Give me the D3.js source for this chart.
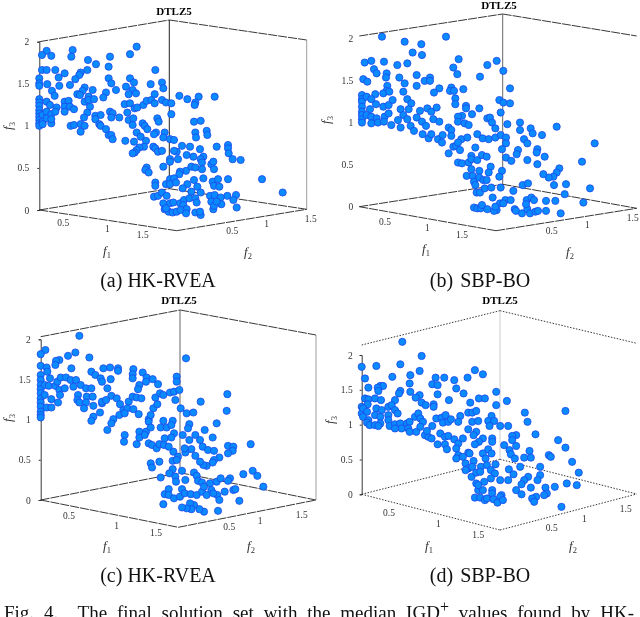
<!DOCTYPE html>
<html>
<head>
<meta charset="utf-8">
<script src="https://d3js.org/d3.v7.min.js"></script>
<style>
  html, body { margin: 0; background: #fff; }
  svg { display: block; filter: blur(0.35px); }
  text { font-family: "Liberation Serif", serif; }
</style>
</head>
<body>
<svg id="fig" width="640" height="617"></svg>
<script>
// points as [u, v] on the view plane:
// u = across the cube, v = height (f3 hundredths, roughly)
var pointsA = [[5.5,191],[2,186],[9,185],[25,192],[24,184],[73,196],[68,187],[53,184],[36.5,180],[42.5,175],[52,172],[2,168],[5.5,168],[12,168],[19,164],[31,165],[36,168],[30,162],[27,157],[14.5,159],[0,158],[87,168],[52,158],[54,152],[68,158],[71,153],[83.5,151],[92,153],[93,146],[0,152],[0,149],[6,151],[15,149],[23,150],[9.5,143],[11.5,137],[34,147],[32.5,143],[40,144],[28.5,139],[30.5,138],[37,136],[57.5,144],[65,148],[70,144],[72.5,140],[67,139],[50,141],[48,135],[86.5,139],[105,137],[111,133],[119.5,136],[131.5,136],
  [0,133],[0,129],[0,125],[0,120],[0,116],[0,112],[0,108],[0,104],[0,101],[2.5,114],[2.5,106],[2.5,103],[5.5,130],[8,126],[5.5,118],[5.5,110],[9,115],[9,104],[9,109],[13,123],[12,118],[19,130],[22,131],[19,124],[23,124],[26,121],[19,118],
  [34,130],[37,132],[41,133],[38,124],[36,117],[33.5,111],[64,127],[68,128],[71.5,122],[73.5,123],[78,126],[80.5,131],[84,132],[86.5,128],[92,132],[95,129],[99,128],[117,129],[116.5,126],[99,115],
  [42,113],[46,114],[42,109],[53,118],[55,116],[54,111],[60,111],[66,117],[67,108],[70.5,110],[88.5,110],[89.5,106],[116,106],[121,107],[45,103],[46,101],[50,97],[23.5,101],[26,102],[31,103],[34,101],[31,94],[70,102],[77.5,104],[79,101],[81,97],
  [52,90],[54,90],[55,85],[73,93],[76,88],[80,83],[87.5,93],[86,91],[94,93],[93,87],[98,85],[101,84],[117,93],[117.5,87],[125.5,95],[126,90],[64.5,83],[71,82],[78.5,76],[75,75],[73,72],[71.5,69],[70,68],[85.5,76],[87,74],[89,70],[92,71],[107,77],[113,76],[120.5,73],[133,76],[141.5,78],[141.5,74],[142,68],
  [103,70],[101,71],[110.5,66],[115.5,64],[123,64],[121,61],[122,57],[145,61],[151,60],[98,61],[98,58],[104,61],[93,52],[80.5,51],[79.5,48],[82,45],[114,52],[117,51],[122,49],[110,47],[105.5,46],[105,43],[129,55],[130.5,58],[131,49],[167,37],[182.5,21],
  [87,33],[87,29],[98,37],[95,31],[98,31],[101,38],[102.5,33],[111,31],[107.5,26],[116,36],[123,38],[118.5,28],[121,21],[114,22],[130,34],[134,37],[141.5,37],[131,29],[135,28],[128,17],[131.5,18],[141,17],[147.5,18],[145.5,12],[136,15],[136.5,7],[148,3],
  [86,16],[89,17],[92,21],[95.5,17],[93,8],[98,8],[100.5,9],[94,1],[97,-2],[100,-3],[103,-2],[95,2],[105.5,8],[108.5,12],[108,6],[106,0],[110.5,1],[110,-4],[117,-3],[121,-6],[112.5,14],[117,14],[118,9],[120.5,-2],[129,10],[130.5,1],[131,5],[133,10]];

var pointsB = [[17,204],[34,198],[46.5,195],[65,204],[40,185],[47,182],[4,173],[9,175],[18.5,174],[28.5,170],[36,172],[74.5,177],[96,170],[103,175],[70.5,167],[73.5,159],[11,165],[13,160],[20.5,160],[20,155],[3,153],[6,150],[30,155],[34,148],[43,158],[43,145],[49,151],[53,155],[53,151],[90.5,156],[108,163],[21,145],[20.5,139],[18,136],[22.5,138],[33,138],[60,142],[56,137],[69,143],[68,139],[71,139],[78,141],[113,142],
  [12,135],[2,134],[2,129],[2,126],[2,120],[2,114],[2,110],[2,105],[2,101],[5.5,132],[9,129],[12.5,123],[8,117],[5.5,110],[9,108],[9,100],[13,106],[14,101],[18,120],[22,122],[25,128],[19,108],[18.5,102],[22,112],[24,98],[36,129],[39,124],[37,117],[31,117],[33,110],[29,104],[36,105],[31,95],[38.5,97],[41,91],[43,107],[45.5,115],[51,118],[54,114],[58,119],[47,102],[50,97],[55.5,105],[60,102],
  [72,130],[72,123],[80,121],[80,118],[90,118],[105,128],[108,125],[113,124],[106,113],[77,109],[74,108],[84.5,111],[74,102],[79,100],[82,98],[96,106],[98,107],[99.5,101],[102,94],[111,99],[120.5,101],[120.5,92],[128.5,94],[130,88],[137,86],[148,96],[176.5,76],
  [47.5,87],[52,82],[54,87],[59,81],[62.5,86],[62,77],[67,95],[69,92],[69,85],[70.5,72],[67,64],[72.5,73],[76.5,81],[81,83],[88.5,87],[92.5,82],[97,81],[102,83],[106,86],[110,83],[110,76],[107,69],[123.5,81],[126,76],[119,68],[118,63],[133.5,69],[133,65],[139,60],[110,59],[114,55],[126,56],[133.5,51],[167,54],[150,46],[148,41],[145.5,36],[142,35],[138,39],[155,27],[146,26],[173,22],[154,15],[168,5],[151,-8],
  [74,77],[75.5,68],[74,53],[77,52],[82,53],[87,71],[84,61],[84,57],[88.5,56],[92,62],[95.5,60],[98.5,48],[80.5,37],[84,45],[85,37],[90,43],[97,41],[107,43],[105,36],[86,30],[90,35],[93,32],[95.5,32],[87,26],[88,17],[90.5,17],[94,22],[99,23],[106,23],[115.5,19],[100,11],[109.5,8],[113.5,8],[105.5,4],[103,-4],[108,4],[86,-1],[88.5,-2],[91,-2],[92,2],[96,-3],[101,-5],[102,0],[116.5,-3],[117.5,-5],[122,-8],[126,-3],[128,-8],[132,-6],[134,-5],[140,-5],[125.5,8],[125,3],[129,11],[131,8],[140,7],[147,7],[122.5,26],[126.5,28]];

var pointsC = [[3.5,180],[0,175],[29,197],[26,177],[20.5,173],[14,168],[11.5,167],[11,162],[0,161],[4.5,159],[5,154],[36.5,171],[23,158],[109,170],[38,154],[41,150],[47,158],[52,159],[58,158],[58,155],[69.5,157],[69,151],[69,146],[76.5,153],[79.5,147],[79,142],[84,145],[88,139],[45,146],[46,142],[52.5,145],[102,148],[102,142],
  [0,150],[0,144],[0,138],[0,133],[0,128],[0,122],[0,117],[0,112],[0,106],[0,102],[0,99],[3,138],[3,126],[4.5,111],[6,137],[7,146],[8,111],[8,121],[11,137],[12.5,142],[15,147],[19,147],[22.5,144],[26.5,144],[14,132],[14.5,126],[13,117],[18,134],[24.5,136],[30,138],[34,134],[38,134],[28,126],[27.5,120],[29,117],[34.5,124],[34,117],[39,124],[32.5,110],[39.5,113],[46,116],[39.5,100],[38,95],[44.5,105],[50,134],[46,118],[49,120],[53,125],[57,122],[59.5,115],[66,118],[69,124],[72,123],[75.5,122],[74,138],[73,133],
  [62,108],[65,110],[69.5,109],[73.5,103],[59,102],[63,104],[54.5,97],[53,92],[50,84],[63,78],[62.5,70],[72,67],[74,82],[74,75],[79,82],[78,78],[81,97],[82.5,102],[84.5,110],[87.5,115],[86,123],[89.5,128],[92,126],[97,129],[100,130],[104,132],[101,120],[105,110],[109.5,104],[114.5,105],[120,118],[140,127],[139.5,107],[132,92],[123,84],[129,75],[111.5,91],[110.5,86],[81,94],[82.5,87],[81,68],[83.5,66],[87,62],[89,67],[92.5,66],[93,74],[96,64],[99.5,58],[92,95],[90,87],[94.5,87],[99,95],[98,90],[100,80],[98,75],[106.5,78],[111.5,72],[116,78],[119.5,72],[121.5,64],[125.5,60],[130,59],[134,51],[130,48],[129,45],[124.5,41],[122,42],[119.5,46],[116,53],[113,61],[108.5,57],[108,62],[103,52],[99,47],[102,48],[140.5,65],[144.5,64],[144,59],[140.5,56],[157.5,67],
  [82.5,44],[83.5,39],[89,46],[90,27],[99,37],[96.5,32],[101,28],[106,35],[101.5,22],[108.5,24],[115,33],[117,29],[118,23],[121,21],[127,20],[132,22],[135,26],[142,26],[140.5,23],[152,31],[159,35],[162.5,29],[167,16],[144.5,12],[146,13],[138,10],[149,-1],[133,-13],[122.5,-14],[119,-11],[115,-6],[112,-4],[113,-11],[109.5,-10],[106,-9],[92,-5],[93,7],[96,13],[96,6],[100,2],[104.5,4],[106,13],[108,8],[112.5,7],[117,6],[121,10],[122.5,16],[128,12],[132.5,6],[134,0],[129.5,8],[124.5,6]];

var pointsD = [[30.5,183],[45,166],[29,156],[11,154],[0,153],[43.5,148],[36.5,143],[23,141],[2.5,139],[55.5,140],[62,140],[53,132],[57,131],[36,133],[69.5,137],[79.5,140],[85,149],[91,144],[14,130],[16,130],[12,128],[12.5,124],[5,128],[29,124],[28,121],[36.5,123],[71,127],[76.5,121],[57,120],[43.5,119],[40.5,116],[45,110],[48,107],[54,108],[54,105],[65.5,113],[81.5,110],[88,115],[92.5,115],[101,123],[101,107],[109,112],[122.5,98],[124.5,87],[153,100],[130.5,72],[147.5,65],[153,56],[140.5,47],[142,45],[158,39],[163,26],[134,33],[126,52],[127,44],[122,44],[116,71],[113,70],[110,82],[113,65],[116,58],[111,53],[112,48],[115,43],[107,59],[119,33],[110.5,30],[114,24],[110,17],[125,21],[122,17],[120,12],[116,5],[120,0],[127,8],[134,23],[132,17],[138,8],[145,9],[154,13],[161.5,11],[139,1],[137,-1],[131,-3],[128,-5],[129.5,-9],[150,-15],
  [0,105],[0,97],[2.5,115],[5,114],[4.5,108],[1,103],[4,99],[1,93],[5,89],[4,86],[6,83],[10,115],[14.5,113],[11,103],[15,101],[10,95],[14,93],[10,83],[14,85],[12.5,82],[20,105],[25,113],[22.5,107],[25,101],[20,95],[27,97],[20,89],[21,82],[25,84],[29,85],[30,79],[25,79],[34,85],[36,87],[35,79],[36,75],[40,93],[42.5,97],[44,91],[46,87],[41,75],[44,81],[47.5,71],[50,69],[52.5,67],[49,76],[53,82],[56,91],[60,92],[63,95],[61,86],[65,87],[67,90],[74,94],[72.5,87],[80,98],[83,98],[86,100],[83,87],[87.5,88],[80,78],[86,75],[84,71],[97.5,94],[95,88],[99.5,88],[96,82],[104,82],[98,67],[98,63],[91,67],[88,63],[85,60],
  [59,73],[57,60],[62.5,69],[65,70],[62.5,60],[64,54],[69.5,66],[72.5,61],[76,67],[71,55],[72.5,47],[71,43],[80,50],[76,45],[81,49],[78,37],[80,31],[84,40],[83,33],[82.5,21],[86,13],[87.5,5],[91,49],[95,54],[97.5,49],[93,43],[89.5,33],[94,35],[97,29],[100.5,36],[100,25],[92,15],[91,5],[97,19],[104,17],[98,5],[98,1],[105,-1],[104,-3],[85,-4],[89,-4],[92.5,-7],[94,-5],[99,-6],[102,-10],[106,-7],[87.5,11],[86,26],[89,27],[78,29]];

var f3Ticks = [0, 0.5, 1, 1.5, 2];
var floorTicks = [0.5, 1, 1.5];
var titleText = 'DTLZ5';
var captions = ['(a) HK-RVEA', '(b) SBP-BO', '(c) HK-RVEA', '(d) SBP-BO'];
var figText = ['Fig. 4.  The final solution set with the median IGD', '+', ' values found by HK-'];

// layout of each panel, in page px. cube corners are given as l/b/r/f
var panels = [
  {pts: pointsA, cap: 0, ox: 0, oy: 0, xL: 39.3, xR: 306.7, y0: 210, y2: 41.7, uMax: 200.5, vMax: 202,
   topL: 41.7, topB: [169.3, 20], topR: 40, botR: 209.3, front: [176.7, 230.7], backBot: 188.7,
   dash: '9 1', backColor: '#222', leftAxis: true, rightEdge: true, tickPad: 8,
   title: [174, 15], f1x: [63.3, 107.3, 142.7], f1y: [224, 230, 236], f2x: [232.3, 266.7, 310.7], f2y: [232.3, 225, 220],
   f1lab: [107, 255], f2lab: [248, 256], f3lab: [12, 126], capX: 158, capY: 287},
  {pts: pointsB, cap: 1, ox: 320, oy: 0, xL: 359.3, xR: 636.7, y0: 206.7, y2: 38.3, uMax: 208, vMax: 202,
   topL: 36, topB: [502.7, 14], topR: 36, botR: 208.3, front: [496, 230.7], backBot: 184.3,
   dash: '9 1', backColor: '#666', leftAxis: false, rightEdge: false, tickPad: 6,
   title: [499, 8.5], f1x: [385, 427.3, 462], f1y: [222.7, 228.7, 236], f2x: [551.7, 587.3, 632.7], f2y: [232.3, 225.7, 219],
   f1lab: [426, 253], f2lab: [570, 256], f3lab: [330, 120], capX: 480, capY: 287},
  {pts: pointsC, cap: 2, ox: 0, oy: 300, xL: 40.7, xR: 316, y0: 500, y2: 339.3, uMax: 206.5, vMax: 193,
   topL: 336.7, topB: [180, 310], topR: 335, botR: 500, front: [178.3, 527.3], backBot: 472.7,
   dash: '9 1', backColor: '#666', leftAxis: true, rightEdge: true, tickPad: 8,
   title: [179, 304], f1x: [69, 116.7, 156], f1y: [517.3, 526.7, 534.3], f2x: [229.3, 260, 301.7], f2y: [528.3, 521.7, 515.7],
   f1lab: [107, 550], f2lab: [251, 550], f3lab: [12, 418], capX: 158, capY: 582},
  {pts: pointsD, cap: 3, ox: 320, oy: 300, xL: 361.7, xR: 636.7, y0: 494.3, y2: 355, uMax: 206.5, vMax: 167,
   topL: 345, topB: [500, 310.7], topR: 343.3, botR: 494, front: [500, 530], backBot: 459.3,
   dash: '1.5 1.5', backColor: '#ccc', leftAxis: true, rightEdge: false, tickPad: 7,
   title: [500, 304], f1x: [389, 438.3, 478.3], f1y: [514.3, 525, 536], f2x: [551.7, 584.3, 625.7], f2y: [529, 520, 510],
   f1lab: [429, 550], f2lab: [573, 550], f3lab: [334, 420], capX: 480, capY: 582}
];

var svg = d3.select('#fig');

function drawPanel(p) {
  var g = svg.append('g');
  var x = d3.scaleLinear().domain([0, p.uMax]).range([p.xL, p.xR]);
  var y = d3.scaleLinear().domain([0, p.vMax]).range([p.y0, p.y0 - p.vMax / 1.2]);
  var f3 = d3.scaleLinear().domain([0, 2]).range([p.y0, p.y2]);

  //cube edges
  var edges = [
    [[p.xL, p.topL], p.topB], [p.topB, [p.xR, p.topR]],
    [[p.xL, p.y0], p.front], [p.front, [p.xR, p.botR]],
    [[p.xL, p.y0], [p.topB[0], p.backBot]], [[p.topB[0], p.backBot], [p.xR, p.botR]]
  ];
  g.selectAll('.edge').data(edges).enter().append('line')
    .attr('class', 'edge')
    .attr('x1', function (d) { return d[0][0]; })
    .attr('y1', function (d) { return d[0][1]; })
    .attr('x2', function (d) { return d[1][0]; })
    .attr('y2', function (d) { return d[1][1]; })
    .attr('stroke', '#222')
    .attr('stroke-width', 0.9)
    .attr('stroke-dasharray', p.dash);

  g.append('line')
    .attr('x1', p.topB[0]).attr('x2', p.topB[0])
    .attr('y1', p.topB[1]).attr('y2', p.backBot)
    .attr('stroke', p.backColor).attr('stroke-width', 1);
  if (p.rightEdge) {
    g.append('line')
      .attr('x1', p.xR).attr('x2', p.xR)
      .attr('y1', p.topR).attr('y2', p.botR)
      .attr('stroke', '#777').attr('stroke-width', 0.7);
  }

  //f3 axis
  var axis = g.append('g')
    .attr('transform', 'translate(' + p.xL + ',0)')
    .call(d3.axisLeft(f3).tickValues(f3Ticks).tickSize(p.leftAxis ? 2 : 0).tickPadding(p.tickPad).tickFormat(d3.format('~g')));
  axis.selectAll('text').attr('font-size', 9.5).attr('fill', '#333')
    .style('font-family', '"Liberation Serif", serif');
  axis.selectAll('line').attr('stroke', '#333');
  axis.select('.domain').attr('stroke', p.leftAxis ? '#222' : 'none').attr('stroke-width', 0.9);

  //floor tick labels
  var f1x = d3.scaleLinear().domain(floorTicks).range(p.f1x);
  var f1y = d3.scaleLinear().domain(floorTicks).range(p.f1y);
  var f2x = d3.scaleLinear().domain(floorTicks).range(p.f2x);
  var f2y = d3.scaleLinear().domain(floorTicks).range(p.f2y);
  [[f1x, f1y], [f2x, f2y]].forEach(function (s) {
    g.selectAll(null).data(floorTicks).enter().append('text')
      .attr('x', function (d) { return s[0](d); })
      .attr('y', function (d) { return s[1](d); })
      .attr('text-anchor', 'middle')
      .attr('dominant-baseline', 'middle')
      .attr('font-size', 9.5)
      .attr('fill', '#333')
      .text(function (d) { return d; });
  });

  //axis names
  [[p.f1lab, '1', 0], [p.f2lab, '2', 0], [p.f3lab, '3', -90]].forEach(function (l) {
    var t = g.append('text')
      .attr('transform', 'translate(' + l[0][0] + ',' + l[0][1] + ') rotate(' + l[2] + ')')
      .attr('text-anchor', 'middle')
      .attr('font-size', 13)
      .attr('font-style', 'italic')
      .attr('fill', '#333');
    t.append('tspan').text('f');
    t.append('tspan').attr('dy', 2.5).attr('font-size', 8.5).attr('font-style', 'normal').text(l[1]);
  });

  g.append('text')
    .attr('x', p.title[0]).attr('y', p.title[1])
    .attr('text-anchor', 'middle')
    .attr('font-size', 11).attr('font-weight', 'bold')
    .text(titleText);

  //points
  g.selectAll('.pt').data(p.pts).enter().append('circle')
    .attr('class', 'pt')
    .attr('cx', function (d) { return x(d[0]); })
    .attr('cy', function (d) { return y(d[1]); })
    .attr('r', 3.6)
    .attr('fill', '#0a8aff')
    .attr('stroke', '#1f48e8')
    .attr('stroke-width', 0.8);

  g.append('text')
    .attr('x', p.capX).attr('y', p.capY)
    .attr('text-anchor', 'middle')
    .attr('font-size', 20)
    .attr('fill', '#111')
    .style('word-spacing', p.cap % 2 ? '2px' : '0')
    .text(captions[p.cap]);
}

panels.forEach(drawPanel);

//figure caption, cut by the page bottom like the reference
var fig = svg.append('text')
  .attr('x', 4).attr('y', 619)
  .attr('font-size', 19)
  .attr('fill', '#111')
  .style('word-spacing', '5.1px')
  .attr('xml:space', 'preserve');
fig.append('tspan').text(figText[0]);
fig.append('tspan').attr('dy', -7).attr('font-size', 16).text(figText[1]);
fig.append('tspan').attr('dy', 7).text(figText[2]);
</script>
</body>
</html>
